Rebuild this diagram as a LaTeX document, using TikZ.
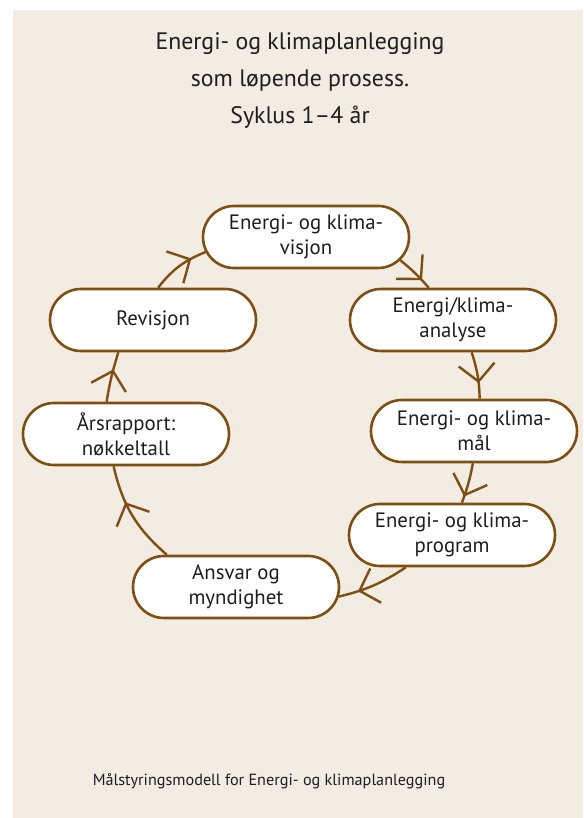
\documentclass[tikz,border=0pt]{standalone}
\usepackage{fontspec}
\setmainfont{PT Sans}
\usetikzlibrary{arrows.meta, calc, decorations.markings}
\definecolor{cbrown}{HTML}{7E4E13}
\definecolor{cpaper}{HTML}{F3ECE2}
\definecolor{cink}{HTML}{1E1E1E}
\tikzset{
  every picture/.style={x=1pt, y=1pt},
  stage/.style={draw=cbrown, fill=white, line width=2.6pt, rounded corners=31pt, minimum width=206pt, minimum height=62pt,
    inner xsep=0pt, inner ysep=2pt, align=center, text=cink, font=\fontsize{20.8}{25}\selectfont},
  flow/.style={draw=cbrown, line width=2.4pt, postaction={decorate}, decoration={markings,
    mark=at position #1 with {\arrow{Straight Barb[length=17pt, width=36pt, line width=2.4pt, color=cbrown]}}}},
  flow/.default=0.7,
  title/.style={font=\fontsize{23.8}{37}\selectfont, align=center, text=cink},
  caption/.style={font=\fontsize{16.2}{18}\selectfont, text=cink},
}
\begin{document}
\begin{tikzpicture}
  \useasboundingbox (0,0) rectangle (583,818);
  \fill[cpaper] (13,0) rectangle (583,808);
  \node[title] (heading) at (300,737) {Energi- og klimaplanlegging\\som løpende prosess.\\Syklus 1–4 år};
  \node[stage] (visjon) at (306,581) {Energi- og klima-\\visjon};
  \node[stage] (analyse) at (453,498) {Energi/klima-\\analyse};
  \node[stage] (mal) at (474,387) {Energi- og klima-\\mål};
  \node[stage] (program) at (452,283) {Energi- og klima-\\program};
  \node[stage] (ansvar) at (236,231) {Ansvar og\\myndighet};
  \node[stage] (aars) at (126,384) {Årsrapport:\\nøkkeltall};
  \node[stage] (revisjon) at (153,498) {Revisjon};
  \draw[flow=0.75] ($(visjon.east)+(-31,0)+(-48:31)$) to[bend left=5] (analyse.127);
  \draw[flow=0.67] (analyse.-60) to[bend left=8] (mal.80);
  \draw[flow=0.84] (mal.-92) to[bend left=5] (program.73);
  \draw[flow=0.73] (program.-145) to[bend left=10] ($(ansvar.east)+(-31,0)+(-18:31)$);
  \draw[flow=0.64] (ansvar.155) to[bend left=18] (aars.-111);
  \draw[flow=0.65] (aars.121) to[bend left=4] (revisjon.-137);
  \draw[flow=0.74] (revisjon.81) to[bend left=15] ($(visjon.west)+(31,0)+(-151:31)$);
  \node[caption] (footer) at (269,37) {Målstyringsmodell for Energi- og klimaplanlegging};
\end{tikzpicture}
\end{document}
